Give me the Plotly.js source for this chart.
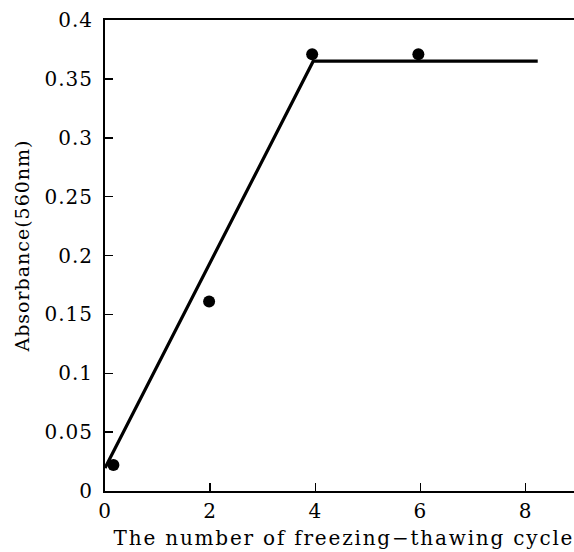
<!DOCTYPE html>
<html>
<head>
<meta charset="utf-8">
<script src="https://cdn.plot.ly/plotly-3.0.1.min.js"></script>
<style>
  html, body { margin: 0; padding: 0; background: #fff; }
  #chart { width: 574px; height: 552px; }
  .xtick text, .ytick text { letter-spacing: 1px; }
  .annotation[data-index="0"] text { letter-spacing: 1.8px; }
  .annotation[data-index="1"] text { letter-spacing: 1px; }
</style>
</head>
<body>
<div id="chart"></div>
<script>
// Measured data points
const cycles = [0.16, 1.98, 3.94, 5.96];
const absorbance = [0.022, 0.161, 0.371, 0.371];

// Fitted trend line (two segments)
const fitCycles = [0, 3.96, 8.23];
const fitAbsorbance = [0.0195, 0.365, 0.365];

const xTickVals = [0, 2, 4, 6, 8];
const xTitle = "The number of freezing\u2212thawing cycle";
const yTitle = "Absorbance(560nm)";

const font = "DejaVu Serif, serif";

const traces = [
  {
    x: fitCycles, y: fitAbsorbance, type: 'scatter', mode: 'lines',
    line: { color: '#000', width: 3.2 }, hoverinfo: 'skip'
  },
  {
    x: cycles, y: absorbance, type: 'scatter', mode: 'markers',
    marker: { color: '#000', size: 12 }
  }
];

const layout = {
  width: 574, height: 552,
  margin: { l: 105, r: 0, t: 20, b: 61, pad: 0 },
  paper_bgcolor: '#fff', plot_bgcolor: '#fff',
  showlegend: false,
  font: { family: font, size: 20, color: '#000' },
  xaxis: {
    range: [0, 8.92], tickvals: xTickVals,
    showgrid: false, zeroline: false,
    showline: true, linecolor: '#000', linewidth: 2, mirror: true,
    ticks: 'inside', ticklen: 8, tickwidth: 1.5, tickcolor: '#000',
    tickfont: { family: font, size: 20, color: '#000' },
    ticklabelstandoff: 1
  },
  yaxis: {
    range: [0, 0.4], dtick: 0.05, tick0: 0,
    showgrid: false, zeroline: false,
    showline: true, linecolor: '#000', linewidth: 2, mirror: false,
    ticks: 'inside', ticklen: 8, tickwidth: 1.5, tickcolor: '#000',
    tickfont: { family: font, size: 20, color: '#000' },
    ticklabelstandoff: 6
  },
  annotations: [
    {
      text: xTitle, xref: 'paper', yref: 'paper', x: 0.5, y: 0,
      xanchor: 'center', yanchor: 'top', yshift: -33, xshift: 4,
      showarrow: false, font: { family: font, size: 20, color: '#000' }
    },
    {
      text: yTitle, xref: 'paper', yref: 'paper', x: 0, y: 0.52,
      xanchor: 'center', yanchor: 'middle', xshift: -83, textangle: -90,
      showarrow: false, font: { family: font, size: 19, color: '#000' }
    }
  ]
};

Plotly.newPlot('chart', traces, layout, { displayModeBar: false, staticPlot: true });
</script>
</body>
</html>
